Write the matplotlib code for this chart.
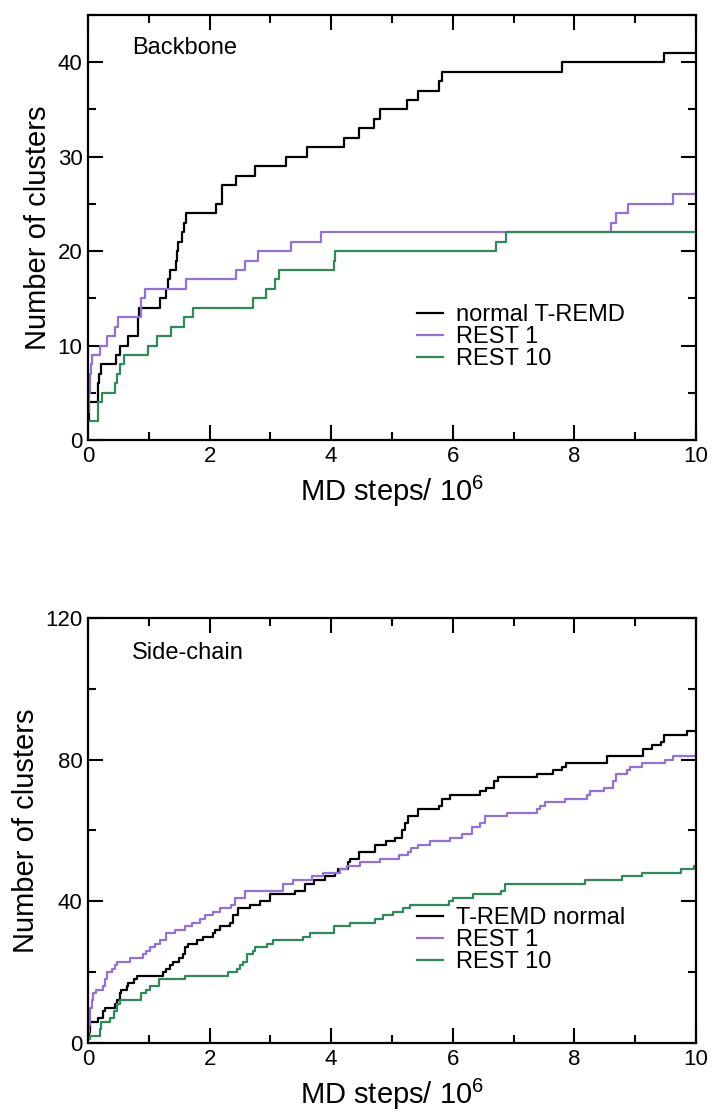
#!/usr/bin/env python3
"""Cumulative number of clusters vs MD steps: backbone and side-chain panels."""

import matplotlib

matplotlib.use("Agg")
import matplotlib.pyplot as plt
from matplotlib.ticker import MultipleLocator

plt.rcParams["font.family"] = ["Liberation Sans", "DejaVu Sans"]
plt.rcParams["mathtext.fontset"] = "custom"
plt.rcParams["mathtext.rm"] = "Liberation Sans"
plt.rcParams["mathtext.default"] = "regular"

# ---- Backbone panel (x in 10^6 MD steps, y = cluster count, step-post) ----
bb_tremd_x = [0, 0.02, 0.17, 0.18, 0.21, 0.455, 0.53, 0.66, 0.82, 0.83, 0.84, 1.18, 1.29,
              1.32, 1.35, 1.44, 1.46, 1.48, 1.55, 1.58, 1.61, 2.10, 2.20, 2.21, 2.43, 2.74,
              3.26, 3.61, 4.21, 4.46, 4.71, 4.81, 5.24, 5.42, 5.78, 5.82, 7.79, 9.47, 10.0]
bb_tremd_y = [2, 4, 6, 7, 8, 9, 10, 11, 12, 13, 14, 15, 16,
              17, 18, 19, 20, 21, 22, 23, 24, 25, 26, 27, 28, 29,
              30, 31, 32, 33, 34, 35, 36, 37, 38, 39, 40, 41, 41]

bb_rest1_x = [0, 0.02, 0.03, 0.05, 0.06, 0.20, 0.31, 0.44, 0.50, 0.87, 0.88, 0.93, 1.62,
              2.43, 2.58, 2.80, 3.34, 3.84, 8.61, 8.69, 8.88, 9.62, 10.0]
bb_rest1_y = [3, 5, 7, 8, 9, 10, 11, 12, 13, 14, 15, 16, 17,
              18, 19, 20, 21, 22, 23, 24, 25, 26, 26]

bb_rest10_x = [0, 0.16, 0.225, 0.44, 0.47, 0.53, 0.60, 0.99, 1.13, 1.37, 1.58, 1.72, 2.72,
               2.92, 3.07, 3.14, 4.05, 4.06, 6.71, 6.87, 10.0]
bb_rest10_y = [2, 4, 5, 6, 7, 8, 9, 10, 11, 12, 13, 14, 15,
               16, 17, 18, 19, 20, 21, 22, 22]

# ---- Side-chain panel ----
sc_tremd_x = [0, 0.02, 0.03, 0.17, 0.25, 0.28, 0.44, 0.47, 0.53, 0.55, 0.64, 0.66, 0.75,
              0.80, 1.24, 1.29, 1.35, 1.40, 1.49, 1.57, 1.60, 1.65, 1.79, 1.90, 2.06, 2.09,
              2.17, 2.34, 2.39, 2.47, 2.66, 2.83, 3.00, 3.40, 3.57, 3.71, 3.90, 4.06, 4.12,
              4.28, 4.31, 4.45, 4.72, 4.91, 5.05, 5.16, 5.21, 5.27, 5.43, 5.78, 5.82, 5.95,
              6.45, 6.55, 6.67, 6.75, 7.38, 7.65, 7.79, 7.87, 8.53, 9.13, 9.27, 9.43, 9.47,
              9.85, 10.0]
sc_tremd_y = [2, 3, 6, 7, 9, 10, 11, 12, 14, 15, 16, 17, 18,
              19, 20, 21, 22, 23, 24, 25, 27, 28, 29, 30, 31, 32,
              33, 34, 36, 38, 39, 40, 42, 43, 45, 46, 47, 48, 49,
              51, 52, 54, 56, 57, 58, 60, 62, 64, 66, 67, 69, 70,
              71, 72, 74, 75, 76, 77, 78, 79, 81, 83, 84, 85, 87,
              88, 88]

sc_rest1_x = [0, 0.016, 0.033, 0.06, 0.088, 0.126, 0.25, 0.28, 0.31, 0.39, 0.44, 0.47, 0.69,
              0.91, 0.96, 1.02, 1.10, 1.18, 1.29, 1.43, 1.60, 1.71, 1.84, 1.92, 2.06, 2.17,
              2.36, 2.42, 2.58, 3.21, 3.38, 3.68, 3.87, 4.15, 4.26, 4.47, 4.80, 5.11, 5.27,
              5.32, 5.43, 5.62, 5.95, 6.15, 6.31, 6.45, 6.53, 6.89, 7.38, 7.44, 7.52, 7.84,
              8.20, 8.25, 8.48, 8.64, 8.69, 8.86, 8.92, 9.11, 9.49, 9.63, 10.0]
sc_rest1_y = [3, 5, 10, 12, 14, 15, 16, 18, 20, 21, 22, 23, 24,
              25, 26, 27, 28, 29, 31, 32, 33, 34, 35, 36, 37, 38,
              39, 41, 43, 45, 46, 47, 48, 49, 50, 51, 52, 53, 54,
              55, 56, 57, 58, 59, 61, 62, 64, 65, 66, 67, 68, 69,
              70, 71, 72, 74, 76, 77, 78, 79, 80, 81, 81]

sc_rest10_x = [0, 0.033, 0.20, 0.22, 0.36, 0.42, 0.47, 0.53, 0.88, 0.96, 1.02, 1.16, 1.60,
               2.31, 2.45, 2.50, 2.55, 2.61, 2.72, 2.75, 2.94, 3.05, 3.54, 3.65, 4.04, 4.31,
               4.72, 4.86, 5.02, 5.18, 5.30, 5.93, 6.01, 6.34, 6.80, 6.86, 8.18, 8.78, 9.11,
               9.76, 9.97, 10.0]
sc_rest10_y = [1, 2, 4, 6, 7, 9, 11, 12, 14, 15, 16, 18, 19,
               20, 21, 22, 23, 25, 26, 27, 28, 29, 30, 31, 33, 34,
               35, 36, 37, 38, 39, 40, 41, 42, 43, 45, 46, 47, 48,
               49, 50, 50]

BLACK = "black"
PURPLE = "#9370db"
GREEN = "#2e8b57"


def style_axes(ax, ymax, ymajor, yminor):
    ax.set_xlim(0, 10)
    ax.set_ylim(0, ymax)
    ax.xaxis.set_major_locator(MultipleLocator(2))
    ax.xaxis.set_minor_locator(MultipleLocator(1))
    ax.yaxis.set_major_locator(MultipleLocator(ymajor))
    ax.yaxis.set_minor_locator(MultipleLocator(yminor))
    ax.tick_params(which="both", direction="in", top=True, right=True, width=1.5,
                   labelsize=16, pad=4)
    ax.tick_params(which="major", length=11)
    ax.tick_params(which="minor", length=6)
    for sp in ax.spines.values():
        sp.set_linewidth(1.6)
    ax.set_xlabel("MD steps/ 10$^{6}$", fontsize=21, labelpad=5)
    ax.set_ylabel("Number of clusters", fontsize=21, labelpad=4)


fig = plt.figure(figsize=(7.13, 11.15), dpi=100)
ax1 = fig.add_axes([0.1234, 0.6054, 0.8527, 0.3812])
ax2 = fig.add_axes([0.1234, 0.0646, 0.8527, 0.3812])

ax1.step(bb_tremd_x, bb_tremd_y, where="post", color=BLACK, lw=1.6, label="normal T-REMD")
ax1.step(bb_rest1_x, bb_rest1_y, where="post", color=PURPLE, lw=1.6, label="REST 1")
ax1.step(bb_rest10_x, bb_rest10_y, where="post", color=GREEN, lw=1.6, label="REST 10")
style_axes(ax1, 45, 10, 5)
ax1.text(0.072, 0.922, "Backbone", transform=ax1.transAxes, fontsize=17, va="center")

ax2.step(sc_tremd_x, sc_tremd_y, where="post", color=BLACK, lw=1.6, label="T-REMD normal")
ax2.step(sc_rest1_x, sc_rest1_y, where="post", color=PURPLE, lw=1.6, label="REST 1")
ax2.step(sc_rest10_x, sc_rest10_y, where="post", color=GREEN, lw=1.6, label="REST 10")
style_axes(ax2, 120, 40, 20)
ax2.text(0.072, 0.918, "Side-chain", transform=ax2.transAxes, fontsize=17, va="center")

for ax in (ax1, ax2):
    ax.legend(loc="center left", bbox_to_anchor=(0.541, 0.242), frameon=False, fontsize=17,
              handlelength=1.1, handletextpad=0.55, labelspacing=0.0, borderpad=0,
              borderaxespad=0)

fig.savefig("out.png", dpi=100)
